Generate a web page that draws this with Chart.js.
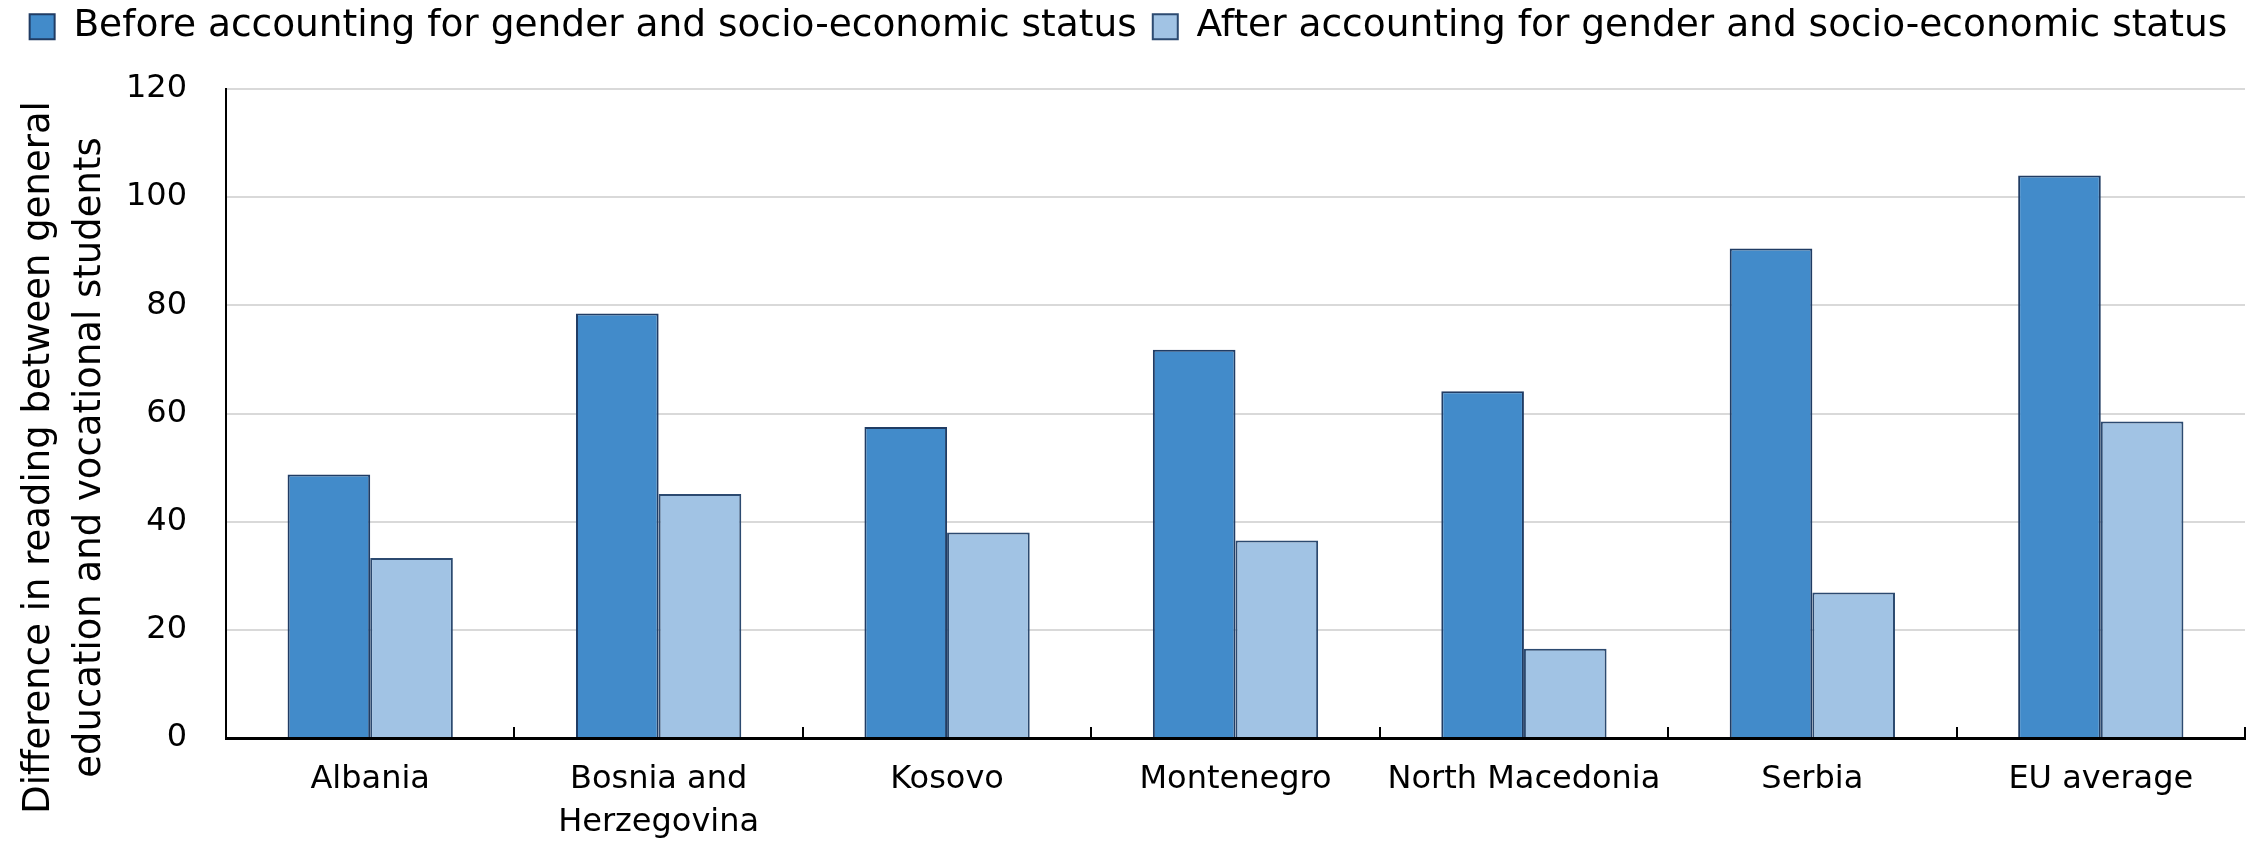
<!DOCTYPE html>
<html>
<head>
<meta charset="utf-8">
<script src="https://cdn.jsdelivr.net/npm/chart.js@4.4.0/dist/chart.umd.min.js"></script>
<style>
    html, body { margin: 0; padding: 0; background: #fff; }
    #wrap { width: 2257px; height: 842px; }
</style>
</head>
<body>
<div id="wrap"><canvas id="chartLeitura" width="2257" height="842"></canvas></div>
<script>
// ---------- dados ----------
const paises = ['Albania', ['Bosnia and', 'Herzegovina'], 'Kosovo', 'Montenegro', 'North Macedonia', 'Serbia', 'EU average'];
const antesAjuste = [48.7, 78.5, 57.5, 71.8, 64.1, 90.5, 104.0];
const depoisAjuste = [33.3, 45.1, 38.0, 36.5, 16.5, 26.9, 58.5];
const ticksY = [0, 20, 40, 60, 80, 100, 120];
const tituloY = ['Difference in reading between general', 'education and vocational students'];
const legendas = ['Before accounting for gender and socio-economic status', 'After accounting for gender and socio-economic status'];

const FONTE = "'DejaVu Sans', Verdana, sans-serif";

// tracinhos do eixo x entre as categorias, virados para cima
const marcasInternas = {
    id: 'marcasInternas',
    afterDatasetsDraw(chart) {
        const x = chart.scales.x;
        const { bottom } = chart.chartArea;
        const passo = x.getPixelForValue(1) - x.getPixelForValue(0);
        const ctx = chart.ctx;
        ctx.save();
        ctx.strokeStyle = '#000';
        ctx.lineWidth = 2;
        ctx.beginPath();
        for (let i = 0; i < paises.length; i++) {
            const px = Math.round(x.getPixelForValue(i) + passo / 2);
            ctx.moveTo(px, bottom);
            ctx.lineTo(px, bottom - 11);
        }
        ctx.stroke();
        ctx.restore();
    }
};

// titulo do eixo y em duas linhas, girado, um pouco abaixo do meio do grafico
const tituloEixoY = {
    id: 'tituloEixoY',
    afterDraw(chart) {
        const ctx = chart.ctx;
        const meio = chart.chartArea.top + (chart.chartArea.bottom - chart.chartArea.top) / 2 + 44;
        const linhas = [49, 100]; // posicao x da linha de base de cada linha
        ctx.save();
        ctx.fillStyle = '#000';
        ctx.font = `37px ${FONTE}`;
        ctx.textAlign = 'center';
        ctx.textBaseline = 'alphabetic';
        tituloY.forEach((txt, i) => {
            ctx.save();
            ctx.translate(linhas[i], meio);
            ctx.rotate(-Math.PI / 2);
            ctx.fillText(txt, 0, 0);
            ctx.restore();
        });
        ctx.restore();
    }
};

// espaço extra abaixo da legenda
const folgaLegenda = {
    id: 'folgaLegenda',
    beforeInit(chart) {
        const fitOriginal = chart.legend.fit;
        chart.legend.fit = function () {
            fitOriginal.bind(chart.legend)();
            this.height += 33.5;
        };
    }
};

new Chart(document.getElementById('chartLeitura').getContext('2d'), {
    type: 'bar',
    data: {
        labels: paises,
        datasets: [{
            label: legendas[0],
            data: antesAjuste,
            backgroundColor: '#428bca',
            borderColor: '#203c64',
            borderWidth: 2
        }, {
            label: legendas[1],
            data: depoisAjuste,
            backgroundColor: '#a1c3e4',
            borderColor: '#2c4a70',
            borderWidth: 2
        }]
    },
    options: {
        responsive: false,
        devicePixelRatio: 1,
        animation: false,
        categoryPercentage: 0.573,
        barPercentage: 1.0,
        layout: { padding: { left: 12, right: 12, top: -8, bottom: 0 } },
        plugins: {
            tooltip: { enabled: false },
            legend: {
                position: 'top',
                labels: {
                    color: '#000',
                    boxWidth: 25,
                    boxHeight: 25,
                    padding: 16,
                    font: { family: FONTE, size: 37.5 }
                }
            }
        },
        scales: {
            x: {
                afterFit: s => { s.height = 104; },
                grid: { display: false, drawTicks: false },
                border: { color: '#000', width: 3 },
                ticks: {
                    color: '#000',
                    padding: 20,
                    maxRotation: 0,
                    autoSkip: false,
                    font: { family: FONTE, size: 32, lineHeight: 1.34 }
                }
            },
            y: {
                min: 0,
                max: 120,
                afterBuildTicks: s => { s.ticks = ticksY.map(v => ({ value: v })); },
                afterFit: s => { s.width = 214; },
                ticks: {
                    color: '#000',
                    padding: 39,
                    font: { family: FONTE, size: 32 }
                },
                grid: { color: '#d9d9d9', lineWidth: 2, drawTicks: false },
                border: { color: '#000', width: 2 }
            }
        }
    },
    plugins: [marcasInternas, tituloEixoY, folgaLegenda]
});
</script>
</body>
</html>
